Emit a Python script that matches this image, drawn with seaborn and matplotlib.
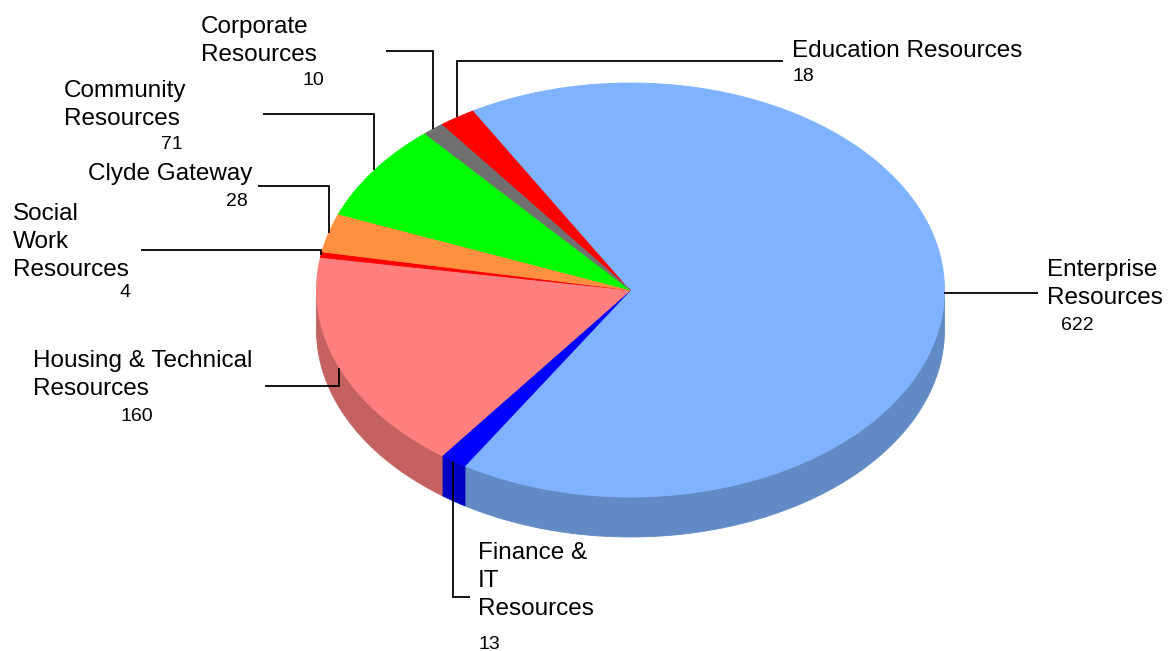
import numpy as np
import matplotlib
matplotlib.use("Agg")
import matplotlib.pyplot as plt
import matplotlib.colors as mcolors
import seaborn as sns

# ---- data (clockwise from the top) ----
categories = ["Education Resources", "Enterprise Resources", "Finance & IT Resources",
              "Housing & Technical Resources", "Social Work Resources", "Clyde Gateway",
              "Community Resources", "Corporate Resources"]
values = [18, 622, 13, 160, 4, 28, 71, 10]
label_lines = [["Education Resources"], ["Enterprise", "Resources"], ["Finance &", "IT", "Resources"],
               ["Housing & Technical", "Resources"], ["Social", "Work", "Resources"],
               ["Clyde Gateway"], ["Community", "Resources"], ["Corporate", "Resources"]]
colors = ["#ff0000", "#7fb3ff", "#0000ff", "#ff7f7f", "#ff0000", "#ff9040", "#00ff00", "#707070"]

# ---- layout (pixel coordinates) ----
W, H = 1168, 651
cx, cy, rx, ry, depth = 630.5, 290, 314, 207, 40
start_angle = 127.0
shade = 0.77
# label layout: (text x, first baseline, value x, value baseline, leader elbow y, leader end x)
label_layout = [
    (792, 57, 792, 81, 61, 783),
    (1047, 276, 1061, 330, None, 1038),
    (478, 559, 479, 649, 597, 470),
    (33, 367, 120, 421, 386, 265),
    (13, 220, 120, 297, 250, 141),
    (88, 180, 226, 206, 186, 258),
    (64, 97, 161, 149, 114, 263),
    (201, 33, 303, 85, 51, 386),
]
line_pitch = 28

sns.set_theme(style="white")
plt.rcParams["font.family"] = ["Liberation Sans", "DejaVu Sans"]

fig = plt.figure(figsize=(W / 100, H / 100), dpi=100)
ax = fig.add_axes([0, 0, 1, 1])
ax.set_xlim(0, W)
ax.set_ylim(H, 0)
ax.axis("off")

vals = np.array(values, dtype=float)
spans = vals / vals.sum() * 360.0
ends = start_angle - np.cumsum(spans)
starts = ends + spans


def pt(t_deg, dy=0.0):
    t = np.radians(t_deg)
    return cx + rx * np.cos(t), cy - ry * np.sin(t) + dy


# side walls (front half only: angles in (-180, 0) mod 360)
for s, e, col in zip(starts, ends, colors):
    side_col = tuple(np.array(mcolors.to_rgb(col)) * shade)
    for k in range(-2, 2):
        lo = max(e, -180 + 360 * k)
        hi = min(s, 0 + 360 * k)
        if hi - lo <= 0:
            continue
        t = np.linspace(lo, hi, 200)
        xt, yt = pt(t)
        xb, yb = pt(t[::-1], depth)
        ax.fill(np.concatenate([xt, xb]), np.concatenate([yt, yb]),
                color=side_col, lw=0.6, ec=side_col, zorder=1)

# top wedges
for s, e, col in zip(starts, ends, colors):
    t = np.linspace(s, e, max(4, int((s - e) * 3)))
    xs, ys = pt(t)
    ax.fill(np.concatenate([[cx], xs]), np.concatenate([[cy], ys]),
            color=col, lw=0.6, ec=col, zorder=2)

# labels and leader lines
for (s, e, lines, v, lay) in zip(starts, ends, label_lines, values, label_layout):
    tx, tb, vx, vb, elbow_y, end_x = lay
    ax_, ay_ = pt((s + e) / 2)
    if elbow_y is None:
        ax.plot([ax_, end_x], [ay_, ay_], color="black", lw=1.3, zorder=3,
                solid_capstyle="butt")
    else:
        ax.plot([ax_, ax_, end_x], [ay_, elbow_y, elbow_y], color="black", lw=1.3,
                zorder=3, solid_capstyle="butt", solid_joinstyle="miter")
    for i, ln in enumerate(lines):
        ax.text(tx, tb + i * line_pitch, ln, fontsize=17.5, ha="left", va="baseline",
                color="black")
    ax.text(vx, vb, str(v), fontsize=14, ha="left", va="baseline", color="black")

fig.savefig("out.png", dpi=100, facecolor="white")
